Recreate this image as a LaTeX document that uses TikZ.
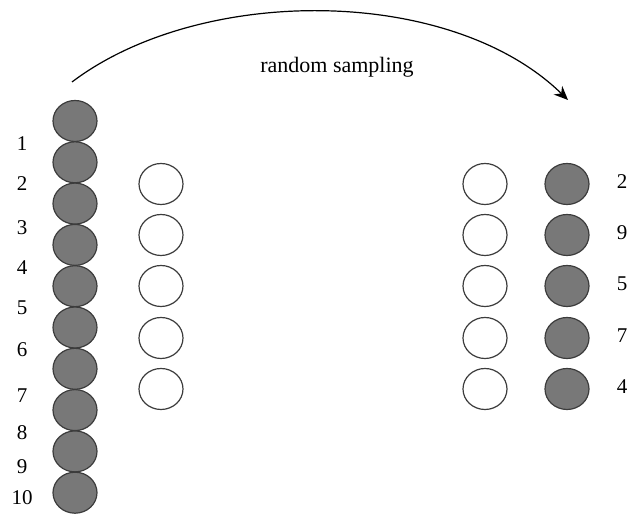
\documentclass[tikz,border=0pt]{standalone}
\usepackage{fontspec}
\setmainfont{Liberation Serif}
\usetikzlibrary{arrows.meta}
\definecolor{ballfill}{RGB}{120,120,120}
\definecolor{ballline}{RGB}{60,60,60}
\tikzset{
  ball/.style={ellipse, draw=ballline, line width=0.6pt, minimum width=22pt, minimum height=20.5pt, inner sep=0pt},
  full/.style={ball, fill=ballfill},
  empty/.style={ball, fill=white},
  num/.style={font=\fontsize{10.5}{12}\selectfont, inner sep=0pt},
}
\usetikzlibrary{shapes.geometric}
\begin{document}
\begin{tikzpicture}[x=0.5pt, y=-0.5pt]
  \useasboundingbox (0,0) rectangle (637,517);
  % population of ten
  \foreach \i in {1,...,10} {
    \node[full] (p\i) at (75, {121 + (\i-1)*41.3}) {};
  }
  \foreach \i/\y in {1/144, 2/184, 3/228, 4/268, 5/308, 6/350, 7/396, 8/433, 9/467, 10/498} {
    \node[num] (n\i) at (22, \y) {\i};
  }
  % empty sample slots
  \foreach \i/\y in {1/184, 2/235, 3/286, 4/338, 5/389} {
    \node[empty] (e\i) at (161, \y) {};
    \node[empty] (f\i) at (485, \y) {};
  }
  % drawn sample
  \foreach \i/\y/\k in {1/184/2, 2/235/9, 3/286/5, 4/338/7, 5/389/4} {
    \node[full] (s\i) at (567, \y) {};
    \node[num] (m\i) at (622, \y-2) {\k};
  }
  % sampling arrow
  \coordinate (a0) at (72,82);
  \coordinate (a1) at (568,100);
  \draw[line width=0.6pt, -{Stealth[length=7pt, width=6pt]}]
    (a0) .. controls (200,-15) and (450,-15) .. (a1);
  \node[font=\fontsize{11}{13}\selectfont] (lbl) at (337,67) {random sampling};
\end{tikzpicture}
\end{document}
